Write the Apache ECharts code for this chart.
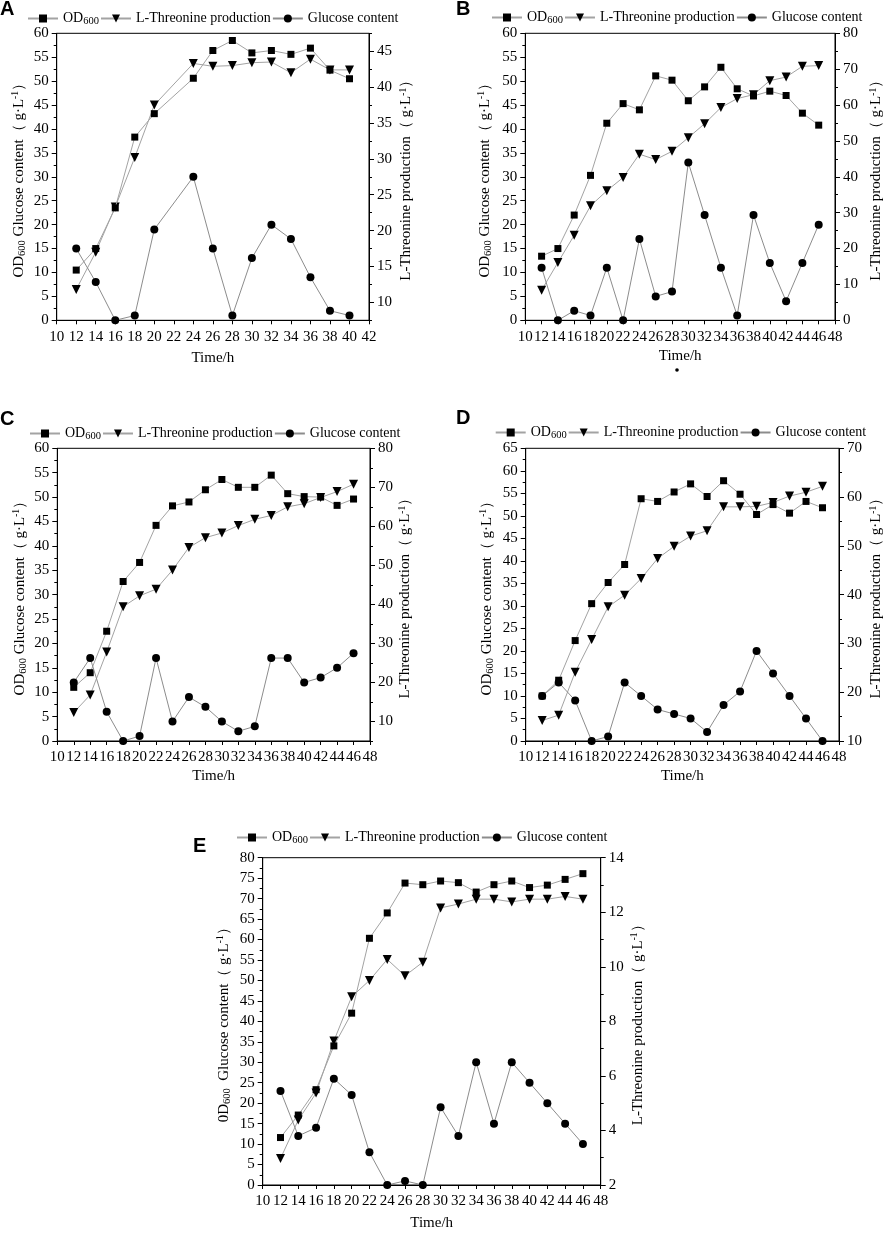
<!DOCTYPE html>
<html><head><meta charset="utf-8">
<script src="https://cdn.jsdelivr.net/npm/echarts@6/dist/echarts.min.js"></script>
<style>html,body{margin:0;padding:0;background:#fff}#c{width:886px;height:1233px}</style>
</head><body><div id="c"></div><script>
// ---------- data ----------
const timeA = [12,14,16,18,20,24,26,28,30,32,34,36,38,40];
const odA  = [10.5,15.0,23.5,38.3,43.2,50.6,56.4,58.5,55.9,56.4,55.6,56.9,52.3,50.5];
const thrA = [11.8,17.0,23.3,30.2,37.5,43.3,42.9,43.0,43.4,43.5,42.0,43.9,42.4,42.4];
const gluA = [15,8,0,1,19,30,15,1,13,20,17,9,2,1];

const timeB = [12,14,16,18,20,22,24,26,28,30,32,34,36,38,40,42,44,46];
const odB  = [13.4,15.0,22.0,30.3,41.2,45.3,44.0,51.1,50.2,45.9,48.8,52.9,48.4,46.9,47.9,47.0,43.3,40.8];
const thrB = [8.4,16.1,23.7,31.9,36.1,39.8,46.3,44.8,47.1,50.9,54.8,59.3,61.8,62.9,66.8,67.8,70.8,71.0];
const gluB = [11,0,2,1,11,0,17,5,6,33,22,11,1,22,12,4,12,20];

const timeC = timeB;
const odC  = [11.0,14.0,22.5,32.7,36.6,44.2,48.2,49.0,51.5,53.6,52.0,52.0,54.5,50.7,50.1,50.0,48.3,49.6];
const thrC = [12.3,16.8,27.8,39.4,42.2,43.9,48.8,54.6,57.1,58.3,60.2,61.8,62.8,65.0,65.8,67.4,68.9,70.8];
const gluC = [12,17,6,0,1,17,4,9,7,4,2,3,17,17,12,13,15,18];

const timeD = timeB;
const odD  = [10.0,13.5,22.3,30.5,35.2,39.2,53.8,53.2,55.3,57.1,54.3,57.8,54.8,50.3,52.5,50.6,53.2,51.8];
const thrD = [14.2,15.3,24.1,30.8,37.5,39.9,43.3,47.4,49.9,52.0,53.1,58.0,58.0,58.1,58.9,60.2,61.0,62.2];
const gluD = [10,13,9,0,1,13,10,7,6,5,2,8,11,20,15,10,5,0];

const timeE = timeB;
const odE  = [11.6,17.1,23.3,34.0,42.0,60.3,66.5,73.8,73.4,74.3,73.9,71.6,73.4,74.3,72.7,73.3,74.7,76.1];
const thrE = [2.97,4.38,5.37,7.28,8.9,9.50,10.27,9.67,10.17,12.16,12.30,12.48,12.48,12.38,12.48,12.48,12.58,12.48];
const gluE = [23,12,14,26,22,8,0,1,0,19,12,30,15,30,25,20,15,10];

const rightTicksA = [10,15,20,25,30,35,40,45];
const rightTicksC = [10,20,30,40,50,60,70,80];

const seriesNames = ['OD600','L-Threonine production','Glucose content'];
const leftNameStd = 'OD{sub|600} Glucose content（ g·L{sup|-1}）';
const leftNameE = '0D{sub|600}  Glucose content（ g·L{sup|-1}）';
const rightName = 'L-Threonine production（ g·L{sup|-1}）';
const xName = 'Time/h';

// ---------- layout ----------
const panels = [
  {letter:'A', lp:[0,-1], grid:[56.7,33.3,312.3,287], lg:[27,10], xMax:42,
   L:[0,60,5], R:[7.5,47.5,null], rTicks:rightTicksA, rMinor:2.5, lGap:29, rGap:29, xGap:29,
   t:timeA, od:odA, thr:thrA, glu:gluA, lname:leftNameStd},
  {letter:'B', lp:[456,-1], grid:[525.3,33.3,312,287], lg:[491,9], xMax:48,
   L:[0,60,5], R:[0,80,10], lGap:32, rGap:33, xGap:27,
   t:timeB, od:odB, thr:thrB, glu:gluB, lname:leftNameStd},
  {letter:'C', lp:[0,409], grid:[57.3,448.3,312.7,292.7], lg:[29,425], xMax:48,
   L:[0,60,5], R:[5,80,null], rTicks:rightTicksC, rMinor:5, lGap:29, rGap:27, xGap:27,
   t:timeC, od:odC, thr:thrC, glu:gluC, lname:leftNameStd},
  {letter:'D', lp:[456,408], grid:[525.7,448.3,313.3,292.7], lg:[494.7,424], xMax:48,
   L:[0,65,5], R:[10,70,10], lGap:30, rGap:29, xGap:27,
   t:timeD, od:odD, thr:thrD, glu:gluD, lname:leftNameStd},
  {letter:'E', lp:[193,836], grid:[262.7,857.7,338,329], lg:[236,829], xMax:48,
   L:[0,80,5], R:[2,14,2], lGap:30, rGap:29, xGap:30,
   t:timeE, od:odE, thr:thrE, glu:gluE, lname:leftNameE}
];

const SERIF = '"Liberation Serif","Times New Roman",serif';
const rich = {
  sub:{fontSize:10.5, lineHeight:10, verticalAlign:'bottom', fontFamily:SERIF, color:'#000'},
  sup:{fontSize:9.5, lineHeight:9, verticalAlign:'top', fontFamily:SERIF, color:'#000'}
};
const nameStyle = {fontFamily:SERIF, fontSize:15, color:'#000', lineHeight:17, rich:rich};
const legendText = {fontFamily:SERIF, fontSize:14, color:'#000', lineHeight:17, rich:rich};
const labelStyle = {fontFamily:SERIF, fontSize:15, color:'#000', margin:8};
const black = {color:'#000', width:1};
const LINE = '#a3a3a3';

const option = {animation:false, backgroundColor:'#fff', textStyle:{fontFamily:SERIF},
  title:[], grid:[], xAxis:[], yAxis:[], legend:[], series:[],
  graphic:[{type:'circle', shape:{cx:677, cy:370, r:1.8}, style:{fill:'#000'}}]};

const zip = (a,b) => a.map((x,i)=>[x,b[i]]);

panels.forEach((p,i)=>{
  option.title.push({text:p.letter, left:p.lp[0], top:p.lp[1], padding:0,
    textStyle:{fontFamily:'"Liberation Sans",Arial,sans-serif', fontWeight:'bold', fontSize:20, color:'#000'}});
  option.grid.push({left:p.grid[0], top:p.grid[1], width:p.grid[2], height:p.grid[3],
    show:true, borderColor:'#000', borderWidth:1, backgroundColor:'transparent'});
  option.legend.push({left:p.lg[0], top:p.lg[1], width:420, orient:'horizontal',
    itemWidth:30, itemHeight:10, itemGap:1, padding:0,
    selectedMode:false, data:seriesNames,
    formatter: n => n==='OD600' ? 'OD{sub|600}' : n,
    textStyle:legendText});
  option.xAxis.push({gridIndex:i, type:'value', min:10, max:p.xMax, interval:2,
    name:xName, nameLocation:'middle', nameGap:p.xGap, nameTextStyle:nameStyle,
    axisLine:{show:true, lineStyle:black}, axisTick:{show:true, length:4, lineStyle:black},
    axisLabel:Object.assign({}, labelStyle, {margin:9}), splitLine:{show:false}});
  const leftIdx = option.yAxis.length;
  option.yAxis.push({gridIndex:i, type:'value', position:'left', min:p.L[0], max:p.L[1], interval:p.L[2],
    name:p.lname, nameLocation:'middle', nameRotate:90, nameGap:p.lGap, nameTextStyle:nameStyle,
    axisLine:{show:true, lineStyle:black}, axisTick:{show:true, length:5, lineStyle:black},
    minorTick:{show:true, splitNumber:2, length:3, lineStyle:black},
    axisLabel:labelStyle, splitLine:{show:false}, minorSplitLine:{show:false}});
  const rightIdx = option.yAxis.length;
  const r = {gridIndex:i, type:'value', position:'right', min:p.R[0], max:p.R[1],
    name:rightName, nameLocation:'middle', nameRotate:90, nameGap:p.rGap, nameTextStyle:nameStyle,
    axisLine:{show:true, lineStyle:black}, axisTick:{show:true, length:5, lineStyle:black},
    axisLabel:Object.assign({}, labelStyle), splitLine:{show:false}};
  if (p.rTicks) {
    r.axisLabel.customValues = p.rTicks;
    r.axisTick.customValues = p.rTicks;
  } else {
    r.interval = p.R[2];
    r.minorTick = {show:true, splitNumber:2, length:3, lineStyle:black};
    r.minorSplitLine = {show:false};
  }
  option.yAxis.push(r);
  if (p.rTicks) {
    option.yAxis.push({gridIndex:i, type:'value', position:'right', min:p.R[0], max:p.R[1], interval:p.rMinor,
      axisLine:{show:false}, axisLabel:{show:false}, splitLine:{show:false},
      axisTick:{show:true, length:3, lineStyle:black}});
  }
  option.series.push(
    {type:'line', name:'OD600', xAxisIndex:i, yAxisIndex:leftIdx, data:zip(p.t,p.od),
     symbol:'rect', symbolSize:7, itemStyle:{color:'#000'}, lineStyle:{color:LINE, width:1}, z:3},
    {type:'line', name:'L-Threonine production', xAxisIndex:i, yAxisIndex:rightIdx, data:zip(p.t,p.thr),
     symbol:'triangle', symbolRotate:180, symbolSize:9, itemStyle:{color:'#000'}, lineStyle:{color:LINE, width:1}, z:2},
    {type:'line', name:'Glucose content', xAxisIndex:i, yAxisIndex:leftIdx, data:zip(p.t,p.glu),
     symbol:'circle', symbolSize:8, itemStyle:{color:'#000'}, lineStyle:{color:'#8c8c8c', width:1}, z:4}
  );
});

const chart = echarts.init(document.getElementById('c'));
chart.setOption(option);
</script></body></html>
